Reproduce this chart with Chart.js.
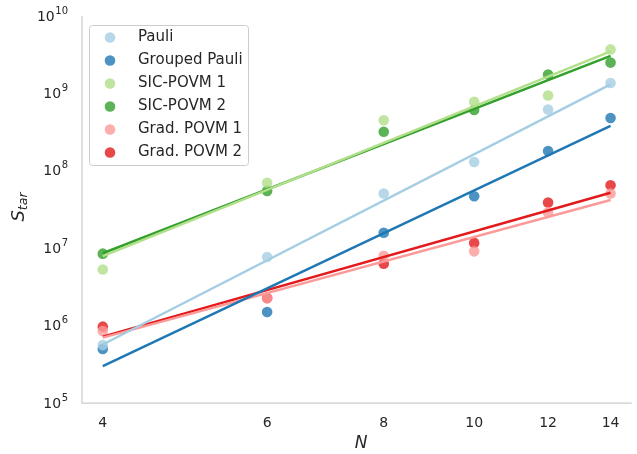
<!DOCTYPE html>
<html>
<head>
<meta charset="utf-8">
<script src="https://cdn.jsdelivr.net/npm/chart.js@4.4.0/dist/chart.umd.min.js"></script>
<style>
  html, body { margin: 0; padding: 0; background: #fff; }
  canvas { display: block; }
</style>
</head>
<body>
<canvas id="chart" width="637" height="454"></canvas>
<script>
// valores
const nValues = [4, 6, 8, 10, 12, 14];
const pauli = [5.6e5, 7.7e6, 5.1e7, 1.3e8, 6.2e8, 1.36e9];
const groupedPauli = [5.0e5, 1.5e6, 1.58e7, 4.7e7, 1.8e8, 4.8e8];
const sic1 = [5.3e6, 7.0e7, 4.5e8, 7.8e8, 9.4e8, 3.7e9];
const sic2 = [8.5e6, 5.5e7, 3.2e8, 6.1e8, 1.75e9, 2.5e9];
const grad1 = [8.5e5, 2.25e6, 8.0e6, 9.1e6, 2.9e7, 5.1e7];
const grad2 = [9.7e5, 2.27e6, 6.3e6, 1.17e7, 3.9e7, 6.5e7];

// extremos de las rectas de ajuste (N = 4 y N = 14)
const fitN = [4, 14];
const pauliFit = [5.7e5, 1.31e9];
const groupedFit = [3.0e5, 3.8e8];
const sic1Fit = [7.9e6, 3.5e9];
const sic2Fit = [8.6e6, 3.05e9];
const grad1Fit = [7.0e5, 4.2e7];
const grad2Fit = [7.2e5, 5.2e7];

const xTicks = [4, 6, 8, 10, 12, 14];
const yTickExp = [5, 6, 7, 8, 9, 10];

const labels = ['Pauli', 'Grouped Pauli', 'SIC-POVM 1', 'SIC-POVM 2', 'Grad. POVM 1', 'Grad. POVM 2'];
const colors = ['#a6cee3', '#1f78b4', '#b2df8a', '#33a02c', '#fb9a99', '#e31a1c'];
const pointSeries = [pauli, groupedPauli, sic1, sic2, grad1, grad2];
const fitSeries = [pauliFit, groupedFit, sic1Fit, sic2Fit, grad1Fit, grad2Fit];

function alpha(hex, a) {
    const r = parseInt(hex.slice(1, 3), 16);
    const g = parseInt(hex.slice(3, 5), 16);
    const b = parseInt(hex.slice(5, 7), 16);
    return `rgba(${r}, ${g}, ${b}, ${a})`;
}

const datasets = [];
pointSeries.forEach((serie, i) => {
    datasets.push({
        label: labels[i],
        data: serie.map((v, j) => ({ x: nValues[j], y: v })),
        showLine: false,
        pointRadius: 5.3,
        pointBorderWidth: 0,
        pointBackgroundColor: alpha(colors[i], 0.8),
        order: 2
    });
});
fitSeries.forEach((serie, i) => {
    datasets.push({
        label: labels[i] + ' fit',
        data: serie.map((v, j) => ({ x: fitN[j], y: v })),
        showLine: true,
        borderColor: colors[i],
        borderWidth: 2.5,
        pointRadius: 0,
        order: 1
    });
});

const FONT = '"DejaVu Sans", sans-serif';
const TEXT = '#262626';

// ejes, etiquetas y leyenda dibujados a mano
const decoracion = {
    id: 'decoracion',
    afterDraw(chart) {
        const ctx = chart.ctx;
        const area = chart.chartArea;
        const xs = chart.scales.x;
        const ys = chart.scales.y;
        ctx.save();

        // spines
        ctx.strokeStyle = '#cccccc';
        ctx.lineWidth = 1.25;
        ctx.beginPath();
        ctx.moveTo(area.left, area.top);
        ctx.lineTo(area.left, area.bottom);
        ctx.lineTo(area.right, area.bottom);
        ctx.stroke();

        // ticks eje x
        ctx.fillStyle = TEXT;
        ctx.font = '14px ' + FONT;
        ctx.textAlign = 'center';
        ctx.textBaseline = 'middle';
        xTicks.forEach(t => {
            ctx.fillText(String(t), xs.getPixelForValue(t), area.bottom + 20);
        });

        // ticks eje y como 10^n
        yTickExp.forEach(e => {
            const y = ys.getPixelForValue(Math.pow(10, e));
            const sup = String(e);
            ctx.font = '10px ' + FONT;
            const wSup = ctx.measureText(sup).width;
            const right = area.left - 14;
            ctx.textAlign = 'left';
            ctx.textBaseline = 'middle';
            ctx.fillText(sup, right - wSup, y - 5);
            ctx.font = '14px ' + FONT;
            const wBase = ctx.measureText('10').width;
            ctx.fillText('10', right - wSup - wBase - 0.5, y + 1);
        });

        // etiqueta x
        ctx.font = 'italic 17px ' + FONT;
        ctx.textAlign = 'center';
        ctx.textBaseline = 'middle';
        ctx.fillText('N', 361, 444);

        // etiqueta y: S_tar
        ctx.save();
        ctx.translate(18, 207);
        ctx.rotate(-Math.PI / 2);
        ctx.font = 'italic 18px ' + FONT;
        const wS = ctx.measureText('S').width;
        ctx.font = 'italic 12.5px ' + FONT;
        const wT = ctx.measureText('tar').width;
        const start = -(wS + wT) / 2;
        ctx.textAlign = 'left';
        ctx.textBaseline = 'alphabetic';
        ctx.font = 'italic 18px ' + FONT;
        ctx.fillText('S', start, 6);
        ctx.font = 'italic 12.5px ' + FONT;
        ctx.fillText('tar', start + wS, 9);
        ctx.restore();

        // leyenda
        const lx = 89, ly = 25, lw = 159, lh = 140;
        ctx.fillStyle = 'rgba(255,255,255,0.8)';
        ctx.strokeStyle = '#cccccc';
        ctx.lineWidth = 1;
        ctx.beginPath();
        ctx.roundRect(lx + 0.5, ly + 0.5, lw, lh, 3);
        ctx.fill();
        ctx.stroke();
        ctx.font = '15px ' + FONT;
        ctx.textAlign = 'left';
        ctx.textBaseline = 'middle';
        labels.forEach((lab, i) => {
            const yy = ly + 12.5 + i * 23;
            ctx.fillStyle = alpha(colors[i], 0.8);
            ctx.beginPath();
            ctx.arc(110, yy, 5.3, 0, Math.PI * 2);
            ctx.fill();
            ctx.fillStyle = TEXT;
            ctx.fillText(lab, 138, yy);
        });

        ctx.restore();
    }
};

new Chart(document.getElementById('chart').getContext('2d'), {
    type: 'scatter',
    data: { datasets },
    options: {
        responsive: false,
        animation: false,
        layout: { padding: { left: 82, right: 3, top: 16, bottom: 51 } },
        plugins: {
            legend: { display: false },
            tooltip: { enabled: false }
        },
        scales: {
            x: { type: 'logarithmic', min: 3.8, max: 14.75, display: false },
            y: { type: 'logarithmic', min: 1e5, max: 1e10, display: false }
        }
    },
    plugins: [decoracion]
});
</script>
</body>
</html>
